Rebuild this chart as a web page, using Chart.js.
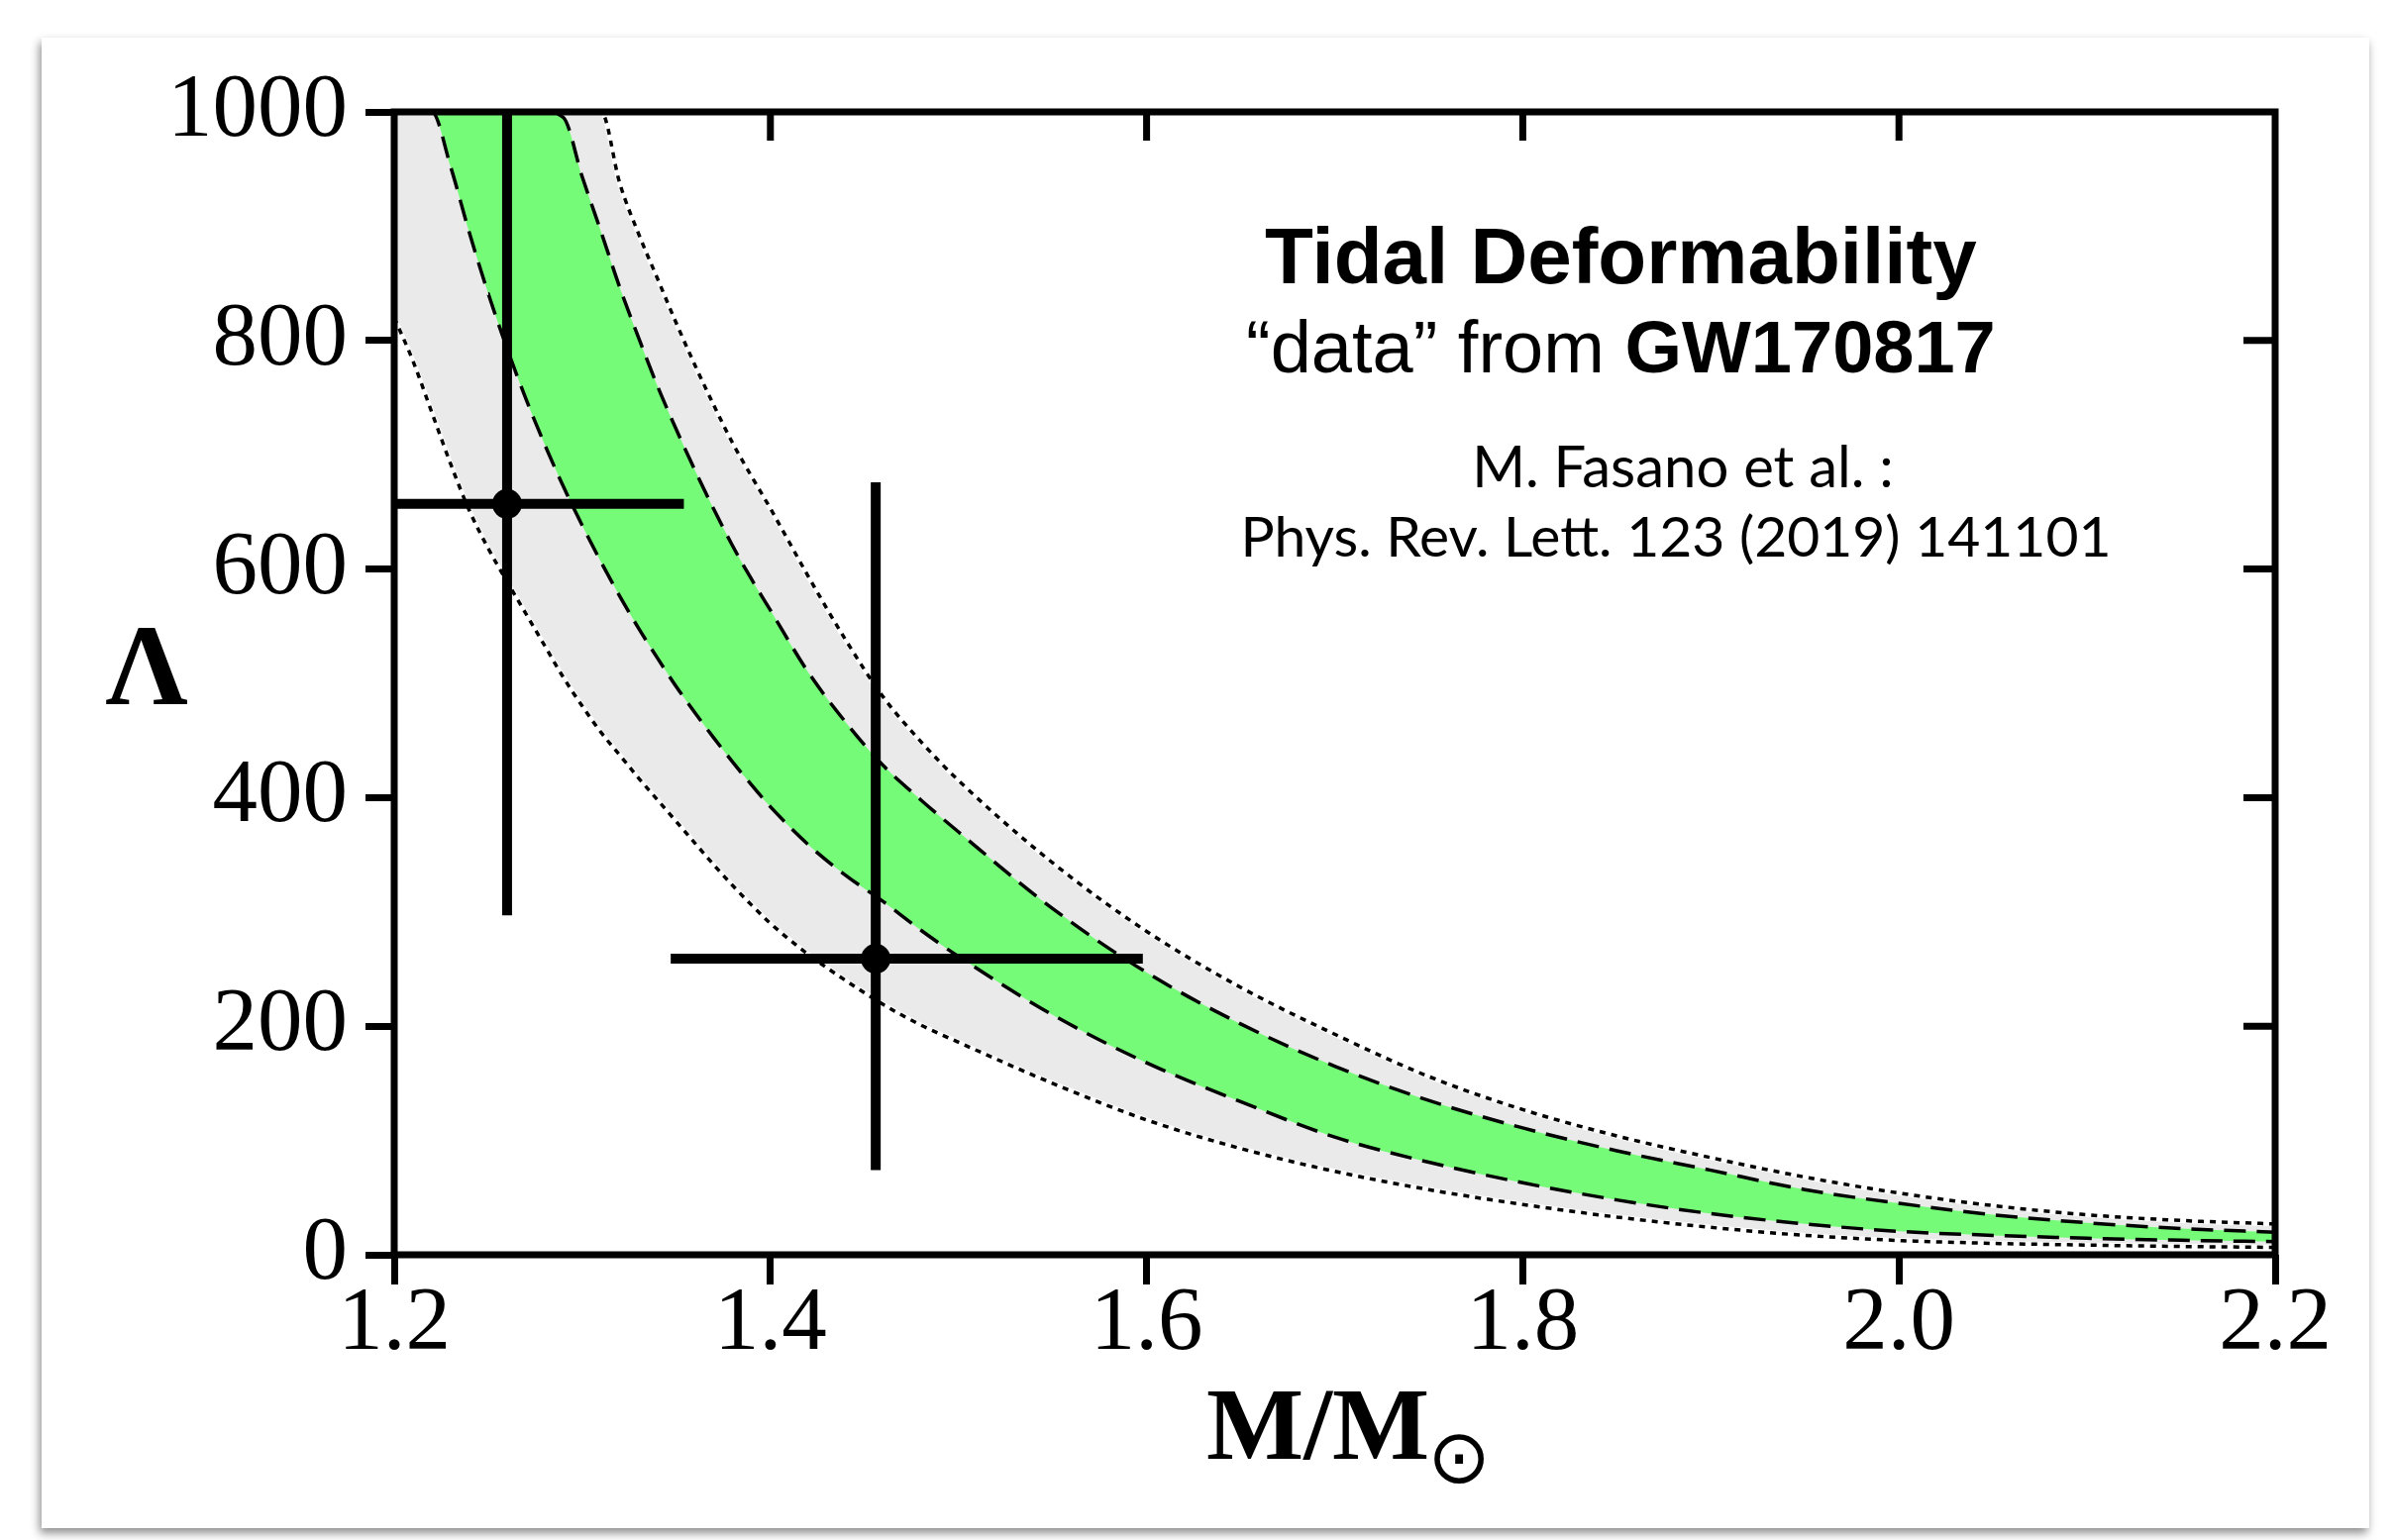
<!DOCTYPE html>
<html>
<head>
<meta charset="utf-8">
<script src="https://cdn.jsdelivr.net/npm/chart.js@4.4.1/dist/chart.umd.min.js"></script>
<style>
  html, body { margin: 0; padding: 0; background: #fff; }
  body { width: 2418px; height: 1555px; position: relative; overflow: hidden; }
  .card { position: absolute; left: 42px; top: 38px; width: 2350px; height: 1505px; background: #fff;
          box-shadow: -2px 5px 9px rgba(0,0,0,0.45); }
  #plot { position: absolute; left: 0; top: 0; }
  .txt { position: absolute; white-space: nowrap; color: #000; line-height: 1; }
  .sans { font-family: "Liberation Sans", Arial, sans-serif; }
  .gill { font-family: Lato, "Open Sans", sans-serif; }
  .serif { font-family: "Liberation Serif", "DejaVu Serif", serif; }
</style>
</head>
<body>
<div class="card"></div>
<canvas id="plot" width="2418" height="1555"></canvas>

<div class="txt sans" style="left:1277px; top:219px; font-size:80px; font-weight:bold;">Tidal Deformability</div>
<div class="txt sans" style="left:1258px; top:314px; font-size:74px;">“data” from <b>GW170817</b></div>
<div class="txt gill" style="left:1699px; top:441px; font-size:58px; transform:translateX(-50%);">M. Fasano et al. :</div>
<div class="txt gill" style="left:1692px; top:512px; font-size:57px; transform:translateX(-50%);">Phys. Rev. Lett. 123 (2019) 141101</div>

<div class="txt serif" style="left:148px; top:614px; font-size:116px; font-weight:bold; transform:translateX(-50%);">Λ</div>
<div class="txt serif" style="left:1218px; top:1386px; font-size:104px; font-weight:bold;">M/M<span style="font-size:76px; font-weight:normal; position:relative; top:24px; margin-left:-2px; font-family:'DejaVu Sans';">⊙</span></div>

<script>
// mass grid shared by the four EOS curves
const massGrid = [1.20, 1.21, 1.22, 1.23, 1.24, 1.25, 1.26, 1.27, 1.28, 1.29, 1.30,
                  1.31, 1.32, 1.33, 1.34, 1.35, 1.36, 1.37, 1.38, 1.39, 1.40,
                  1.42, 1.44, 1.46, 1.48, 1.50, 1.55, 1.60, 1.65, 1.70, 1.75,
                  1.80, 1.85, 1.90, 1.95, 2.00, 2.05, 2.10, 2.15, 2.20];

// outer band (dotted), lower and upper edge
const lambdaOuterLow = [820, 782, 737, 692, 651, 618, 589, 561, 533, 505, 480,
                        457, 437, 417, 398, 379, 360, 341, 323, 306, 290,
                        263, 240, 219, 201, 186, 150, 118, 93, 73, 57,
                        44, 33, 24, 17, 12.5, 10, 8.5, 7.3, 6.5];
const lambdaOuterHigh = [1000, 1000, 1000, 1000, 1000, 1000, 1000, 1000, 1000, 1000, 1000,
                         1000, 937, 893, 854, 815, 778, 743, 710, 681, 653,
                         594, 538, 488, 449, 415, 343, 283, 234, 193, 156,
                         127, 104, 85, 68, 54, 43, 35, 30, 27];

// inner band (dashed, green), lower and upper edge
const lambdaInnerLow = [1000, 1000, 1000, 952, 894, 841, 793, 749, 709, 672, 638,
                        606, 576, 548, 522, 497, 474, 452, 431, 411, 392,
                        359, 332, 309, 284, 261, 210, 168, 134, 103, 81,
                        63, 48, 36, 27, 20.5, 17, 14.5, 12.7, 11.5];
const lambdaInnerHigh = [1000, 1000, 1000, 1000, 1000, 1000, 1000, 1000, 1000, 995, 943,
                         895, 846, 802, 760, 722, 686, 652, 620, 591, 564,
                         510, 466, 428, 398, 370, 303, 247, 202, 165, 135,
                         111, 91, 74, 57, 45, 35, 28, 23, 19.7];

// the two GW170817 "data" points with asymmetric errors
const obsMass = [1.260, 1.456];
const obsMassLow = [1.200, 1.347];
const obsMassHigh = [1.354, 1.598];
const obsLambda = [657, 259];
const obsLambdaLow = [297, 74];
const obsLambdaHigh = [1000, 676];

const xTicks = [1.2, 1.4, 1.6, 1.8, 2.0, 2.2];
const yTicks = [0, 200, 400, 600, 800, 1000];

const toPts = arr => massGrid.map((m, i) => ({ x: m, y: arr[i] }));

const curve = (arr, extra) => Object.assign({
  data: toPts(arr),
  showLine: true,
  pointRadius: 0,
  borderColor: '#000',
  borderWidth: 3.5,
  cubicInterpolationMode: 'monotone',
  fill: false
}, extra);

const frameAndBars = {
  id: 'frameAndBars',
  afterDatasetsDraw(chart) {
    const { ctx, chartArea: a } = chart;
    const x = chart.scales.x, y = chart.scales.y;
    ctx.save();
    ctx.strokeStyle = '#000';
    ctx.lineCap = 'butt';

    // error bars
    ctx.lineWidth = 10;
    ctx.beginPath();
    for (let i = 0; i < obsMass.length; i++) {
      const px = x.getPixelForValue(obsMass[i]);
      const py = y.getPixelForValue(obsLambda[i]);
      ctx.moveTo(x.getPixelForValue(obsMassLow[i]), py);
      ctx.lineTo(x.getPixelForValue(obsMassHigh[i]), py);
      ctx.moveTo(px, y.getPixelForValue(obsLambdaLow[i]));
      ctx.lineTo(px, y.getPixelForValue(obsLambdaHigh[i]));
    }
    ctx.stroke();

    // box round the plot
    ctx.lineWidth = 7;
    ctx.strokeRect(a.left, a.top, a.right - a.left, a.bottom - a.top);

    // inward ticks on top and right
    ctx.beginPath();
    xTicks.slice(1, -1).forEach(v => {
      const p = x.getPixelForValue(v);
      ctx.moveTo(p, a.top);
      ctx.lineTo(p, a.top + 29);
    });
    yTicks.slice(1, -1).forEach(v => {
      const p = y.getPixelForValue(v);
      ctx.moveTo(a.right, p);
      ctx.lineTo(a.right - 32, p);
    });
    ctx.stroke();
    ctx.restore();
  }
};

new Chart(document.getElementById('plot'), {
  type: 'scatter',
  data: {
    datasets: [
      curve(lambdaInnerHigh, { borderDash: [22, 11], fill: '+1', backgroundColor: '#75fb78' }),
      curve(lambdaInnerLow, { borderDash: [22, 11] }),
      curve(lambdaOuterHigh, { borderDash: [6, 6], fill: '+1', backgroundColor: '#eaeaea' }),
      curve(lambdaOuterLow, { borderDash: [6, 6] }),
      curve(lambdaOuterHigh, { borderColor: '#fff', borderWidth: 5 }),
      curve(lambdaOuterLow, { borderColor: '#fff', borderWidth: 5 }),
      {
        data: obsMass.map((m, i) => ({ x: m, y: obsLambda[i] })),
        pointRadius: 15,
        pointBackgroundColor: '#000',
        pointBorderWidth: 0,
        order: -1
      }
    ]
  },
  options: {
    responsive: false,
    animation: false,
    devicePixelRatio: 1,
    layout: { padding: { left: 0, top: 113, right: 121, bottom: 0 } },
    plugins: {
      legend: { display: false },
      tooltip: { enabled: false },
      filler: { drawTime: 'beforeDatasetsDraw' }
    },
    scales: {
      x: {
        type: 'linear',
        min: 1.2,
        max: 2.2,
        afterBuildTicks: s => { s.ticks = xTicks.map(v => ({ value: v })); },
        afterFit: s => { s.height = 288; },
        border: { display: false },
        grid: { drawOnChartArea: false, drawTicks: true, tickLength: 30, tickWidth: 7, tickColor: '#000' },
        ticks: {
          padding: 5,
          color: '#000',
          maxRotation: 0,
          font: { family: 'Liberation Serif', size: 91, lineHeight: 0.8 },
          callback: v => v.toFixed(1)
        }
      },
      y: {
        type: 'linear',
        min: 0,
        max: 1000,
        afterBuildTicks: s => { s.ticks = yTicks.map(v => ({ value: v })); },
        afterFit: s => { s.width = 398; },
        border: { display: false },
        grid: { drawOnChartArea: false, drawTicks: true, tickLength: 29, tickWidth: 7, tickColor: '#000' },
        ticks: {
          padding: 18,
          color: '#000',
          font: { family: 'Liberation Serif', size: 91 },
          callback: v => String(v)
        }
      }
    }
  },
  plugins: [frameAndBars]
});
</script>
</body>
</html>
